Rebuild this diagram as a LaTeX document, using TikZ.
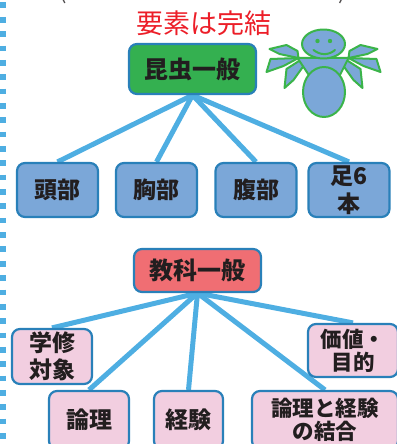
\documentclass[tikz,border=0pt]{standalone}
\usepackage{fontspec}
\newfontfamily\jp{Noto Sans CJK JP}
\usetikzlibrary{backgrounds}

\definecolor{edgeblue}{RGB}{41,128,185}
\definecolor{wire}{RGB}{78,174,226}
\definecolor{leafgreen}{RGB}{52,176,80}
\definecolor{partblue}{RGB}{123,167,216}
\definecolor{subjred}{RGB}{240,110,115}
\definecolor{pinkfill}{RGB}{242,206,224}
\definecolor{titlered}{RGB}{236,30,40}
\definecolor{ink}{RGB}{34,30,31}
\definecolor{figline}{RGB}{59,180,74}

\tikzset{
  box/.style={draw=edgeblue, line width=2.2pt, rounded corners=8pt, text=ink,
    align=center, inner sep=0pt,
    font=\jp\bfseries\fontsize{23}{27}\selectfont},
  rootbox/.style={box, minimum width=127pt, font=\jp\bfseries\fontsize{24}{28}\selectfont},
  partbox/.style={box, fill=partblue, minimum width=81pt, minimum height=54pt},
  pinkbox/.style={box, fill=pinkfill},
  smallpink/.style={pinkbox, font=\jp\bfseries\fontsize{21.5}{23}\selectfont},
  link/.style={wire, line width=5pt},
  fig/.style={draw=figline, line width=2pt, fill=partblue, line join=round},
  dotrule/.style={wire, line width=5.7pt, dash pattern=on 5.7pt off 8.65pt},
}

\begin{document}
\begin{tikzpicture}[x=1pt,y=-1pt]
\useasboundingbox (0,0) rectangle (396,444);

% dotted margin rule
\draw[dotrule] (2.8,2.5) -- (2.8,444);

% bracket line partly above the top edge
\node[anchor=south, inner sep=0pt, text=ink!80, font=\jp\fontsize{22}{24}\selectfont] (lpar) at (63,4) {(};
\node[anchor=south, inner sep=0pt, text=ink!80, font=\jp\fontsize{22}{24}\selectfont] (rpar) at (342,4) {)};

% heading
\node[text=titlered, inner sep=0pt, font=\jp\fontsize{27}{30}\selectfont] (title) at (204,23) {要素は完結};

% insect tree
\node[rootbox, fill=leafgreen, minimum height=50pt] (insect) at (192.5,69) {昆虫一般};
\node[partbox] (head) at (57.5,190) {頭部};
\node[partbox] (chest) at (156.5,190) {胸部};
\node[partbox] (belly) at (256,190) {腹部};
\node[partbox, font=\jp\bfseries\fontsize{23}{28}\selectfont] (legs) at (349,190) {足6\\本};

% subject tree
\node[rootbox, fill=subjred, minimum height=43pt] (subject) at (197.5,270.5) {教科一般};
\node[pinkbox, minimum width=80pt, minimum height=55pt, font=\jp\bfseries\fontsize{23}{27}\selectfont] (target) at (52,356.5) {学修\\対象};
\node[pinkbox, minimum width=80pt, minimum height=58pt] (logic) at (89,420) {論理};
\node[pinkbox, minimum width=69pt, minimum height=58pt] (exper) at (188.5,420) {経験};
\node[smallpink, minimum width=146pt, minimum height=58pt] (combo) at (325,420) {論理と経験\\の結合};
\node[smallpink, minimum width=90pt, minimum height=53pt] (value) at (353,350.5) {価値・\\目的};

\begin{scope}[on background layer]
  \foreach \n in {head,chest,belly,legs}
    \draw[link] (insect.south) -- (\n.north);
  \foreach \n in {target,logic,exper,combo,value}
    \draw[link] (subject.south) -- (\n.north);
\end{scope}

% winged figure
\begin{scope}[shift={(323.5,0)}]
  \foreach \s in {1,-1}{
    \begin{scope}[xscale=\s]
      \draw[fig] (-25,58) -- (-44,54) -- (-54,49) -- (-37,45) -- (-26,51) -- cycle;
      \draw[fig] (-25,58) -- (-53,59) -- (-57,72) -- (-40,66) -- cycle;
      \draw[fig] (-23,60) -- (-37,69) -- (-39,88) -- (-30,80) -- (-20,66) -- cycle;
    \end{scope}
  }
  \draw[fig] (-26,58) -- (25,58) -- (16,76) -- (-14,76) -- cycle;
  \draw[fig] (0.5,92) ellipse [x radius=21pt, y radius=25pt];
  \draw[fig] (0,44) ellipse [x radius=21.5pt, y radius=14.5pt];
  \fill[figline] (-6,41) circle [radius=2.2pt] (6.5,41) circle [radius=2.2pt];
  \draw[figline, line width=2pt, line cap=round] (-10,50) .. controls (-3,55.5) and (5,55.5) .. (11.5,50);
\end{scope}

\end{tikzpicture}
\end{document}
